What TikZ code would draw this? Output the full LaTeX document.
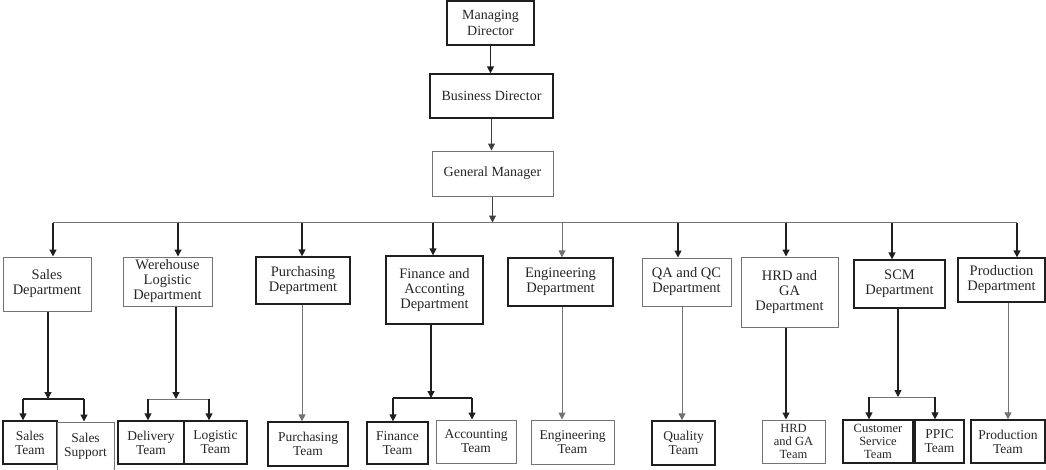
\documentclass[tikz,border=0pt]{standalone}
\usepackage{fontspec}
\setmainfont{Liberation Serif}
\usetikzlibrary{arrows.meta}

\tikzset{
  dk/.style={draw=black!88, line width=1.3pt},
  lt/.style={draw=black!55, line width=1pt},
  box/.style={inner sep=0pt, align=center, text=black!85},
  sz/.style 2 args={minimum width=#1pt, minimum height=#2pt},
  toptxt/.style={font=\fontsize{14}{16}\selectfont},
  depttxt/.style={font=\fontsize{14.5}{15}\selectfont},
  teamtxt/.style={font=\fontsize{13.5}{14}\selectfont},
  smalltxt/.style={font=\fontsize{12.5}{13}\selectfont},
  arr/.style={-{Triangle[length=7pt,width=7pt]}},
}

\begin{document}
\begin{tikzpicture}[x=1pt, y=-1pt]
\useasboundingbox (0,0) rectangle (1046,469);

% top of the hierarchy
\node[box, dk, toptxt, sz={87}{44}] (md) at (490.5,23) {Managing\\Director};
\node[box, dk, toptxt, sz={123}{44}] (bd) at (491.5,96) {Business Director};
\node[box, lt, toptxt, sz={121}{45}] (gm) at (492.5,173.5) {General Manager};

% departments
\node[box, lt, depttxt, sz={88}{54}]  (sales) at (47,284)     {Sales\\Department};
\node[box, lt, depttxt, sz={89}{49}]  (wh)    at (167.5,281.5) {Werehouse\\Logistic\\Department};
\node[box, dk, depttxt, sz={94}{47}]  (pur)   at (303,280.5)   {Purchasing\\Department};
\node[box, dk, depttxt, sz={97}{68}]  (fin)   at (434.5,290)   {Finance and\\Acconting\\Department};
\node[box, dk, depttxt, sz={105}{48}] (eng)   at (560.5,282)   {Engineering\\Department};
\node[box, lt, depttxt, sz={89}{48}]  (qa)    at (686.5,282)   {QA and QC\\Department};
\node[box, lt, depttxt, sz={97}{70}]  (hrd)   at (789.5,292)   {HRD and\\GA\\Department};
\node[box, dk, depttxt, sz={91}{48}]  (scm)   at (899.5,284)   {SCM\\Department};
\node[box, dk, depttxt, sz={87}{44}]  (prod)  at (1001.5,280)  {Production\\Department};

% teams
\node[box, dk, teamtxt, sz={54}{43}] (steam) at (30,442.5)    {Sales\\Team};
\node[box, lt, teamtxt, sz={57}{49}] (ssup)  at (85.5,446.5)  {Sales\\Support};
\node[box, dk, teamtxt, sz={66}{43}] (del)   at (151,442.5)   {Delivery\\Team};
\node[box, dk, teamtxt, sz={63}{43}] (log)   at (215.5,442.5) {Logistic\\Team};
\node[box, dk, teamtxt, sz={80}{44}] (purt)  at (308,444)     {Purchasing\\Team};
\node[box, dk, teamtxt, sz={61}{42}] (fint)  at (397.5,443)   {Finance\\Team};
\node[box, lt, teamtxt, sz={80}{43}] (acc)   at (476,441.5)   {Accounting\\Team};
\node[box, lt, teamtxt, sz={83}{44}] (engt)  at (572.5,442)   {Engineering\\Team};
\node[box, dk, teamtxt, sz={63}{44}] (qual)  at (683.5,443)   {Quality\\Team};
\node[box, lt, smalltxt, sz={63}{43}] (hrdt) at (793.5,441.5) {HRD\\and GA\\Team};
\node[box, dk, smalltxt, sz={70}{43}] (cst)  at (878,441.5)   {Customer\\Service\\Team};
\node[box, dk, teamtxt, sz={49}{43}] (ppic)  at (939.5,441.5) {PPIC\\Team};
\node[box, dk, teamtxt, sz={74}{43}] (prodt) at (1008,441.5)  {Production\\Team};

% bus to the departments
\coordinate (b1) at (53,222.5);
\coordinate (b2) at (178,222.5);
\coordinate (b3) at (302,222.5);
\coordinate (b4) at (433,222.5);
\coordinate (b5) at (562,222.5);
\coordinate (b6) at (678,222.5);
\coordinate (b7) at (786,222.5);
\coordinate (b8) at (892,222.5);
\coordinate (b9) at (1017,222.5);

% top chain
\draw[arr, dk] (md.south) -- (md.south |- bd.north);
\draw[arr, lt, draw=black!75] (bd.south) -- (bd.south |- gm.north);
\draw[arr, lt, draw=black!75] (gm.south) -- (gm.south |- b1);
\draw[lt] (b1) -- (b9);

\draw[arr, dk] (b1) -- (b1 |- sales.north);
\draw[arr, dk] (b2) -- (b2 |- wh.north);
\draw[arr, dk] (b3) -- (b3 |- pur.north);
\draw[arr, dk] (b4) -- (b4 |- fin.north);
\draw[arr, lt] (b5) -- (b5 |- eng.north);
\draw[arr, dk] (b6) -- (b6 |- qa.north);
\draw[arr, dk] (b7) -- (b7 |- hrd.north);
\draw[arr, dk] (b8) -- (b8 |- scm.north);
\draw[arr, dk] (b9) -- (b9 |- prod.north);

% sales branches
\coordinate (sj) at (48,399);
\coordinate (sl) at (23,399);
\coordinate (sr) at (84,399);
\draw[arr, dk] (sj |- sales.south) -- (sj);
\draw[dk] (sl) -- (sr);
\draw[arr, dk] (sl) -- (sl |- steam.north);
\draw[arr, dk] (sr) -- (sr |- ssup.north);

% warehouse branches
\coordinate (wj) at (176,399);
\coordinate (wl) at (148,399);
\coordinate (wr) at (209,399);
\draw[arr, dk] (wj |- wh.south) -- (wj);
\draw[lt] (wl) -- (wr);
\draw[arr, dk] (wl) -- (wl |- del.north);
\draw[arr, dk] (wr) -- (wr |- log.north);

% finance branches
\coordinate (fj) at (431,398);
\coordinate (fl) at (393,398);
\coordinate (fr) at (472,398);
\draw[arr, dk] (fj |- fin.south) -- (fj);
\draw[dk] (fl) -- (fr);
\draw[arr, dk] (fl) -- (fl |- fint.north);
\draw[arr, dk] (fr) -- (fr |- acc.north);

% scm branches
\coordinate (cj) at (898,397);
\coordinate (cl) at (869,397);
\coordinate (cr) at (935,397);
\draw[arr, dk] (cj |- scm.south) -- (cj);
\draw[lt] (cl) -- (cr);
\draw[arr, dk] (cl) -- (cl |- cst.north);
\draw[arr, dk] (cr) -- (cr |- ppic.north);

% single teams
\coordinate (pj) at (302,0);
\coordinate (ej) at (562,0);
\coordinate (qj) at (682,0);
\coordinate (hj) at (786,0);
\coordinate (rj) at (1008,0);
\draw[arr, lt] (pj |- pur.south) -- (pj |- purt.north);
\draw[arr, lt] (ej |- eng.south) -- (ej |- engt.north);
\draw[arr, lt] (qj |- qa.south) -- (qj |- qual.north);
\draw[arr, dk] (hj |- hrd.south) -- (hj |- hrdt.north);
\draw[arr, lt] (rj |- prod.south) -- (rj |- prodt.north);
\end{tikzpicture}
\end{document}
